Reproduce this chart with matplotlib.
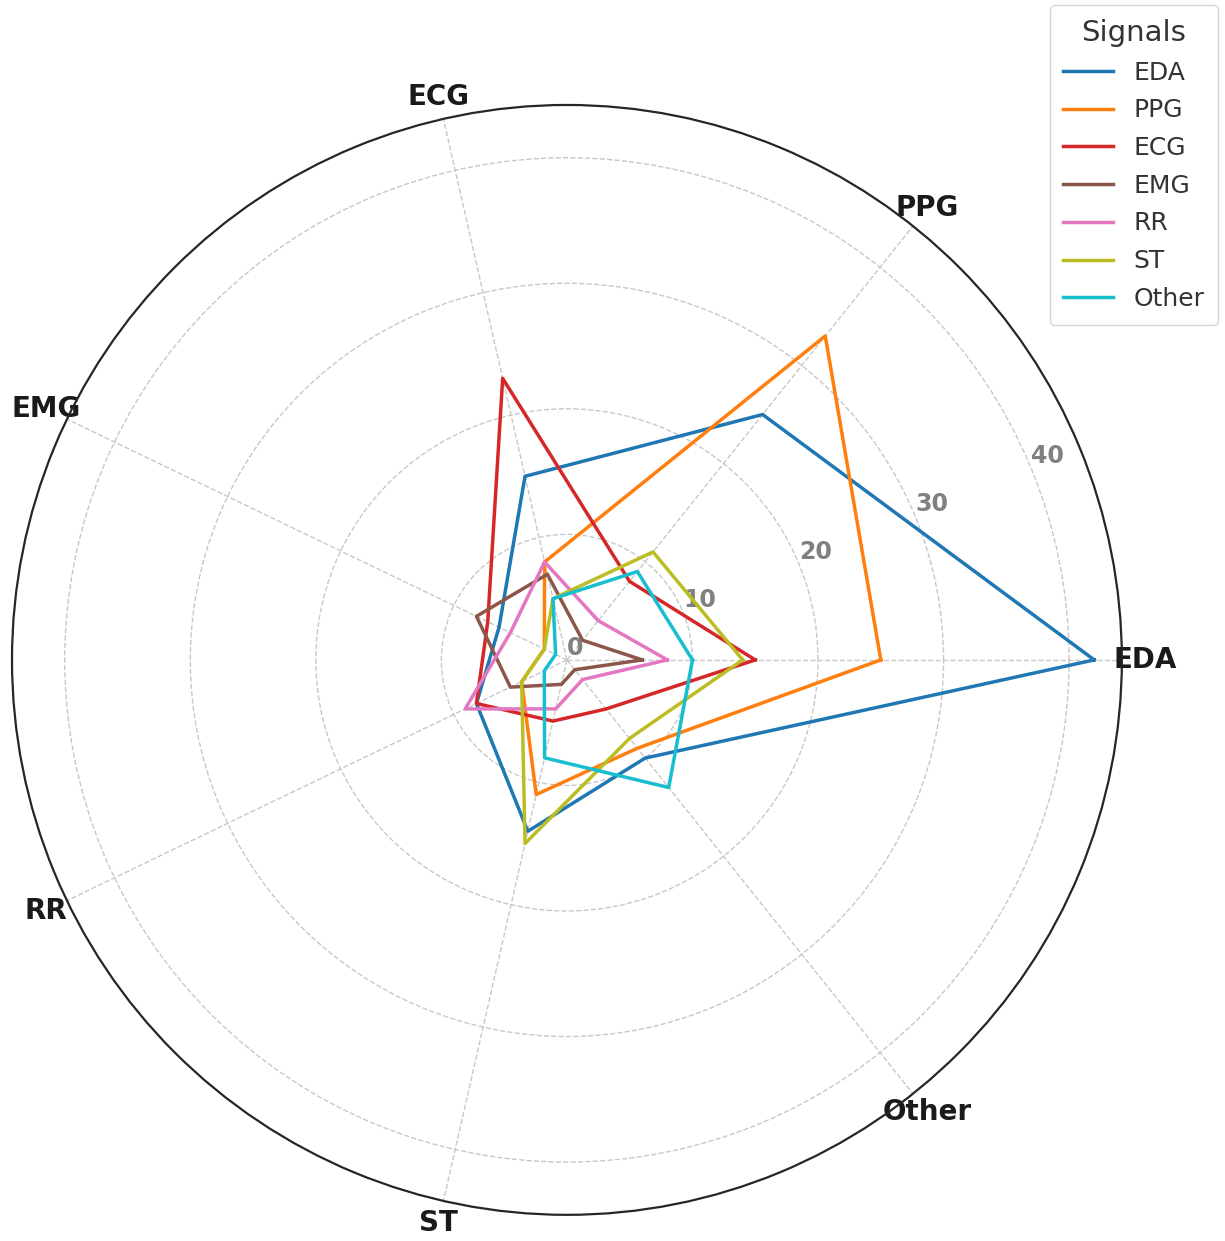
import numpy as np
import matplotlib.pyplot as plt

# co-occurrence counts between signal types
signals = ['EDA', 'PPG', 'ECG', 'EMG', 'RR', 'ST', 'Other']
eda   = [42, 25, 15, 6, 8, 14, 10]
ppg   = [25, 33, 8, 2, 4, 11, 9]
ecg   = [15, 8, 23, 7, 8, 5, 5]
emg   = [6, 2, 7, 8, 5, 2, 1]
rr    = [8, 4, 8, 5, 9, 4, 2]
st    = [14, 11, 5, 2, 4, 15, 8]
other = [10, 9, 5, 1, 2, 8, 13]
series = [eda, ppg, ecg, emg, rr, st, other]
colors = ['#1f77b4', '#ff7f0e', '#d62728', '#8c564b', '#e377c2', '#bcbd22', '#17becf']

n = len(signals)
angles = np.linspace(0, 2 * np.pi, n, endpoint=False).tolist()
angles += angles[:1]

fig = plt.figure(figsize=(12.25, 12.41), dpi=100)
ax = fig.add_axes([0.0098, 0.021, 0.906, 0.8945], polar=True)

for name, vals, c in zip(signals, series, colors):
    v = vals + vals[:1]
    ax.plot(angles, v, color=c, linewidth=2.5, label=name)

ax.set_ylim(0, 44.2)
ax.set_xticks(angles[:-1])
ax.set_xticklabels(signals, fontsize=20, fontweight='bold', color='#1a1a1a')
ax.tick_params(axis='x', pad=6)
ax.set_yticks([0, 10, 20, 30, 40])
ax.set_yticklabels(['0', '10', '20', '30', '40'], fontsize=17, fontweight='bold', color='gray')
ax.set_rlabel_position(22.5)
ax.grid(True, linestyle='--', color='#c8c8c8', linewidth=1)
ax.spines['polar'].set_color('#262626')
ax.spines['polar'].set_linewidth(1.6)

leg = fig.legend(loc='upper right', bbox_to_anchor=(1218 / 1225, 1 - 5 / 1241),
                 borderaxespad=0, title='Signals', fontsize=18, title_fontsize=21,
                 frameon=True, handlelength=2.0, labelspacing=0.55, borderpad=0.55)
for t in leg.get_texts():
    t.set_color('#333333')
leg.get_title().set_color('#333333')
leg.get_frame().set_edgecolor('#cccccc')

fig.savefig('out.png', dpi=100)
